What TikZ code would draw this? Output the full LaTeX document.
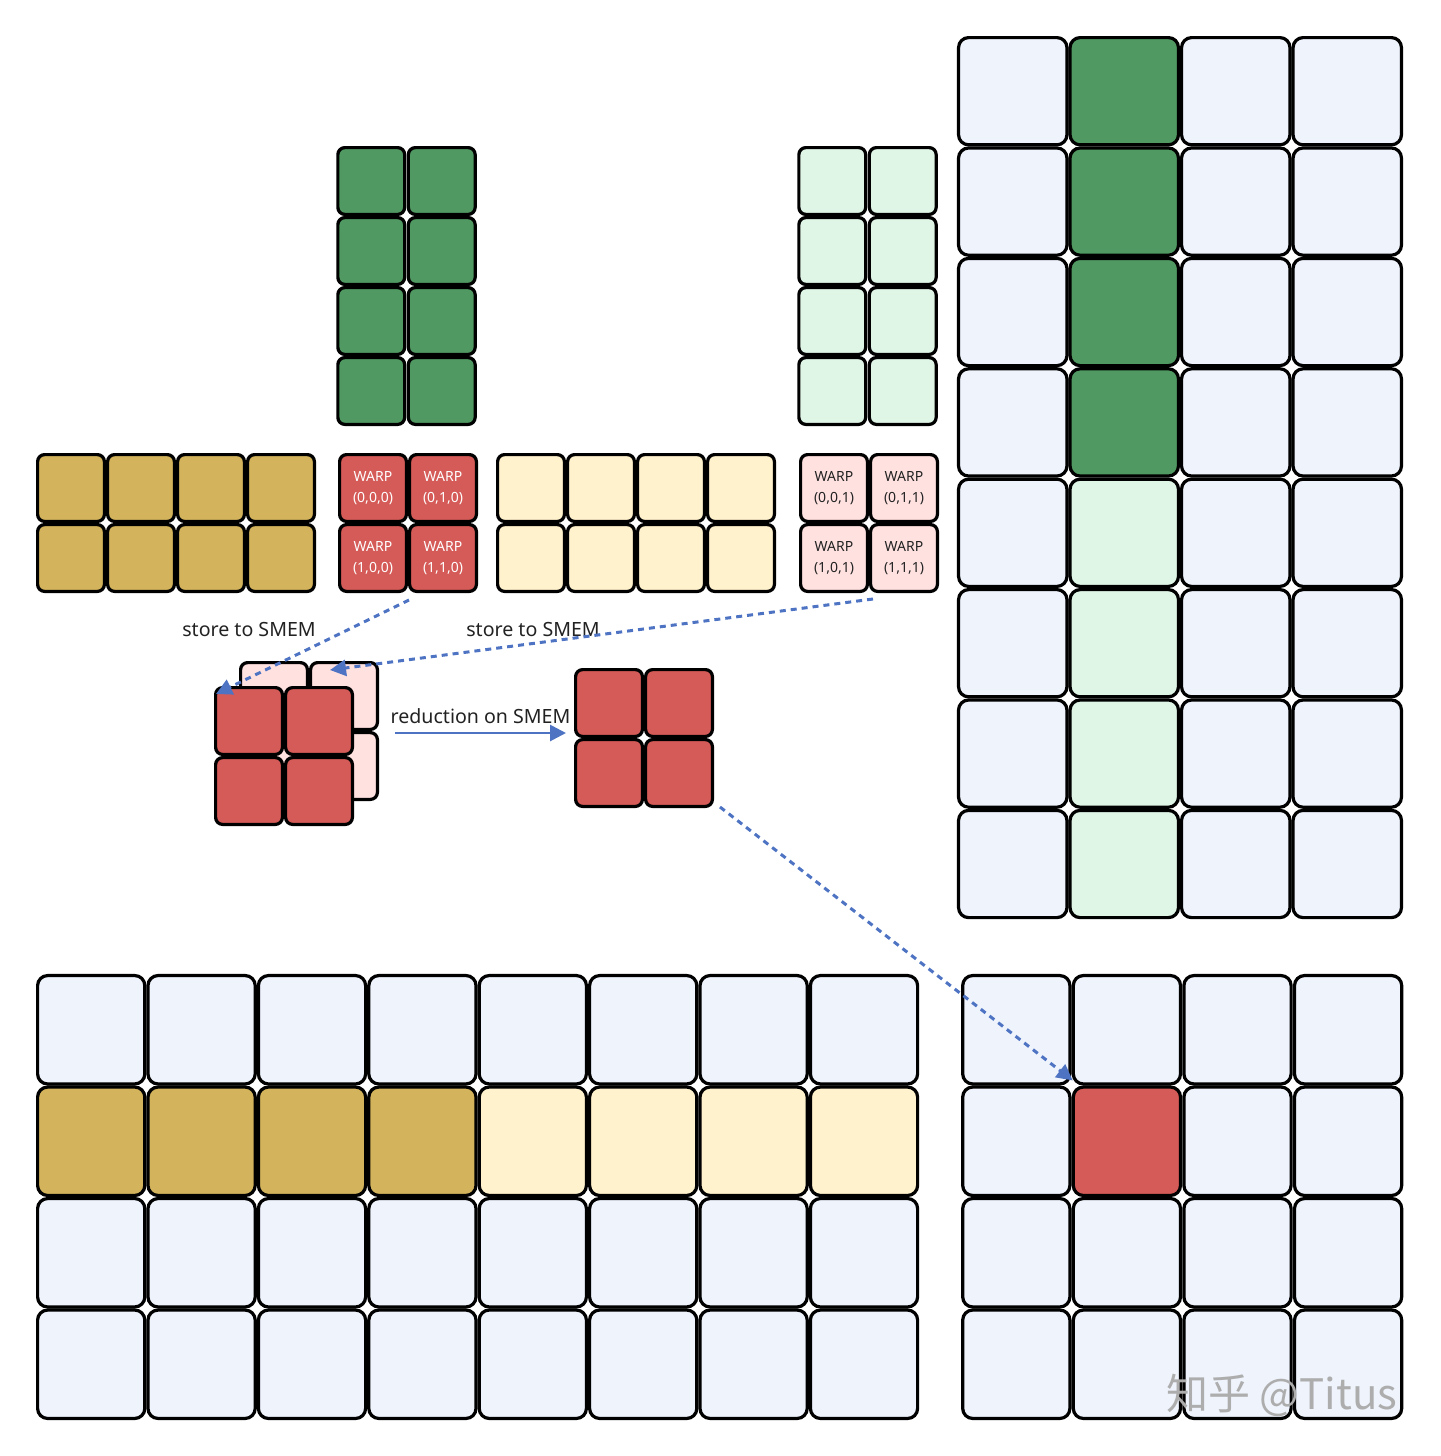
\documentclass[tikz,border=0pt]{standalone}
\usepackage{fontspec}
\setmainfont{Noto Sans}
\newfontfamily\cjkfont{Noto Sans CJK SC}
\usetikzlibrary{arrows.meta}
\definecolor{cellblue}{HTML}{EEF3FC}
\definecolor{leafgreen}{HTML}{519962}
\definecolor{mintgreen}{HTML}{DFF5E6}
\definecolor{gold}{HTML}{D3B35B}
\definecolor{cream}{HTML}{FFF2CC}
\definecolor{warpred}{HTML}{D55B58}
\definecolor{warppink}{HTML}{FFE1E0}
\definecolor{arrowblue}{HTML}{4D73C2}
\definecolor{inkgray}{HTML}{222222}

\begin{document}
\begin{tikzpicture}[x=0.5pt,y=-0.5pt,
  bigcell/.style={draw,line width=1.6pt,rounded corners=5pt,
    minimum width=54.2pt,minimum height=53.6pt,inner sep=0pt},
  widecell/.style={bigcell,minimum width=53.6pt,minimum height=54.2pt},
  tile/.style={draw,line width=1.6pt,rounded corners=3.5pt,minimum size=33.4pt,
    inner sep=0pt,align=center,font=\fontsize{7}{10.5}\selectfont},
  lbl/.style={font=\fontsize{9.8}{12}\selectfont,text=inkgray,inner sep=1pt},
  storearr/.style={-{Triangle[length=8pt,width=8pt]},draw=arrowblue,
    line width=1.5pt,dash pattern=on 3pt off 2.5pt},
  reducearr/.style={-{Triangle[length=8pt,width=8pt]},draw=arrowblue,line width=1.4pt}]
\useasboundingbox (0,0) rectangle (1440,1456);

% result tile of B (right)
\foreach \r in {0,...,7}{
  \foreach \c in {0,...,3}{
    \ifnum\c=1 \ifnum\r<4 \def\fc{leafgreen}\else\def\fc{mintgreen}\fi\else\def\fc{cellblue}\fi
    \node[bigcell,fill=\fc] (B-\r-\c) at ({957+111.5*(\c+0.5)},{36+110.4*(\r+0.5)}) {};
  }
}
% tile of A (bottom left)
\foreach \r in {0,...,3}{
  \foreach \c in {0,...,7}{
    \ifnum\r=1 \ifnum\c<4 \def\fc{gold}\else\def\fc{cream}\fi\else\def\fc{cellblue}\fi
    \node[widecell,fill=\fc] (C-\r-\c) at ({36+110.4*(\c+0.5)},{974+111.5*(\r+0.5)}) {};
  }
}
% output tile (bottom right)
\foreach \r in {0,...,3}{
  \foreach \c in {0,...,3}{
    \ifnum\numexpr10*\r+\c\relax=11 \def\fc{warpred}\else\def\fc{cellblue}\fi
    \node[widecell,fill=\fc] (D-\r-\c) at ({961+110.6*(\c+0.5)},{974+111.5*(\r+0.5)}) {};
  }
}

% B slices for the two k steps
\foreach \r in {0,...,3}{
  \foreach \c in {0,1}{
    \node[tile,fill=leafgreen] (G-\r-\c) at ({336+70.5*(\c+0.5)},{146+70*(\r+0.5)}) {};
    \node[tile,fill=mintgreen] (L-\r-\c) at ({797+70.5*(\c+0.5)},{146+70*(\r+0.5)}) {};
  }
}
% A slices and the warps
\foreach \r in {0,1}{
  \foreach \c in {0,...,3}{
    \node[tile,fill=gold] (A-\r-\c) at ({36+70*(\c+0.5)},{453+70*(\r+0.5)}) {};
    \node[tile,fill=cream] (E-\r-\c) at ({496+70*(\c+0.5)},{453+70*(\r+0.5)}) {};
  }
  \foreach \c in {0,1}{
    \node[tile,fill=warpred,text=white] (W0-\r-\c) at ({338+70*(\c+0.5)},{453+70*(\r+0.5)}) {WARP\\(\r,\c,0)};
    \node[tile,fill=warppink,text=inkgray] (W1-\r-\c) at ({799+70*(\c+0.5)},{453+70*(\r+0.5)}) {WARP\\(\r,\c,1)};
  }
}

% partial sums in SMEM
\foreach \r in {0,1}{
  \foreach \c in {0,1}{
    \node[tile,fill=warppink] (P-\r-\c) at ({239+70*(\c+0.5)},{661+70*(\r+0.5)}) {};
  }
}
\foreach \r in {0,1}{
  \foreach \c in {0,1}{
    \node[tile,fill=warpred] (R-\r-\c) at ({214+70*(\c+0.5)},{686+70*(\r+0.5)}) {};
    \node[tile,fill=warpred] (S-\r-\c) at ({574+70*(\c+0.5)},{668+70*(\r+0.5)}) {};
  }
}

\node[lbl] (store0) at (249,629) {store to SMEM};
\node[lbl] (store1) at (533,629) {store to SMEM};

\draw[storearr] ([shift={(1,7)}]W0-1-1.south west) -- ([shift={(2,8)}]R-0-0.north west);
\draw[storearr] ([shift={(4,6)}]W1-1-0.south east) -- ([shift={(21,9)}]P-0-1.north west);
\draw[reducearr] ([shift={(16,2)}]P-0-1.south east) -- ([shift={(-8,-5)}]S-0-0.south west)
  node[midway,above=3pt,lbl] (reduce) {reduction on SMEM};
\draw[storearr] ([shift={(6,-1)}]S-1-1.south east) -- ([shift={(1,-5)}]D-1-1.north west);

% watermark
\node[font=\cjkfont\fontsize{21}{21}\selectfont,text=black!32] (mark) at (1282,1395) {知乎 @Titus};
\end{tikzpicture}
\end{document}
